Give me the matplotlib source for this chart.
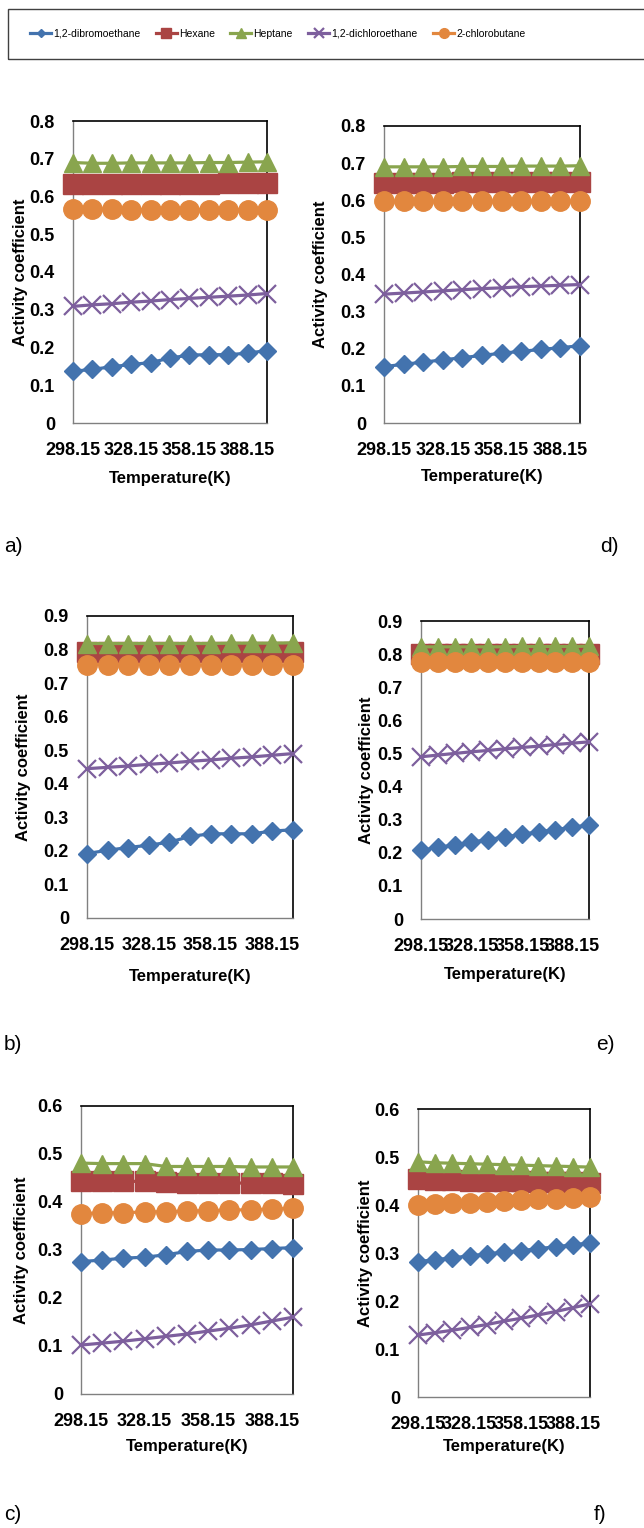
import matplotlib
matplotlib.use("Agg")
import matplotlib.pyplot as plt
from matplotlib.patches import Rectangle

plt.rcParams['font.family'] = ['Liberation Sans', 'DejaVu Sans']

W, H = 644, 1528

temps = ["298.15", "308.15", "318.15", "328.15", "338.15", "348.15",
         "358.15", "368.15", "378.15", "388.15", "398.15"]

names = ["1,2-dibromoethane", "Hexane", "Heptane", "1,2-dichloroethane", "2-chlorobutane"]
colors = ["#4373AE", "#AA4443", "#89A54E", "#7D5F9D", "#E2873E"]

# panel a
a_dibromo = [0.137, 0.142, 0.149, 0.155, 0.160, 0.172, 0.180, 0.181, 0.181, 0.185, 0.192]
a_hexane = [0.632, 0.632, 0.633, 0.633, 0.633, 0.634, 0.634, 0.634, 0.636, 0.637, 0.636]
a_heptane = [0.690, 0.688, 0.688, 0.689, 0.689, 0.689, 0.689, 0.690, 0.690, 0.691, 0.692]
a_dichloro = [0.309, 0.313, 0.316, 0.320, 0.323, 0.327, 0.330, 0.333, 0.336, 0.339, 0.343]
a_chlorobut = [0.566, 0.566, 0.566, 0.565, 0.565, 0.565, 0.565, 0.565, 0.565, 0.565, 0.565]

# panel d
d_dibromo = [0.152, 0.158, 0.164, 0.170, 0.176, 0.182, 0.188, 0.193, 0.198, 0.203, 0.208]
d_hexane = [0.646, 0.646, 0.647, 0.647, 0.648, 0.648, 0.648, 0.649, 0.649, 0.649, 0.650]
d_heptane = [0.690, 0.690, 0.690, 0.690, 0.691, 0.691, 0.691, 0.692, 0.692, 0.692, 0.693]
d_dichloro = [0.347, 0.350, 0.353, 0.356, 0.359, 0.362, 0.364, 0.367, 0.369, 0.371, 0.373]
d_chlorobut = [0.597, 0.597, 0.597, 0.597, 0.597, 0.597, 0.597, 0.597, 0.597, 0.597, 0.597]

# panel b
b_dibromo = [0.192, 0.202, 0.210, 0.217, 0.226, 0.243, 0.251, 0.251, 0.251, 0.259, 0.263]
b_hexane = [0.793, 0.793, 0.793, 0.793, 0.793, 0.793, 0.793, 0.794, 0.794, 0.794, 0.794]
b_heptane = [0.818, 0.818, 0.818, 0.818, 0.818, 0.818, 0.818, 0.819, 0.819, 0.819, 0.820]
b_dichloro = [0.445, 0.449, 0.453, 0.458, 0.462, 0.467, 0.471, 0.476, 0.480, 0.485, 0.490]
b_chlorobut = [0.755, 0.755, 0.755, 0.755, 0.754, 0.754, 0.754, 0.754, 0.754, 0.754, 0.754]

# panel e
e_dibromo = [0.208, 0.216, 0.224, 0.232, 0.240, 0.248, 0.256, 0.263, 0.270, 0.277, 0.284]
e_hexane = [0.800, 0.800, 0.800, 0.800, 0.800, 0.800, 0.800, 0.801, 0.801, 0.801, 0.801]
e_heptane = [0.822, 0.822, 0.822, 0.822, 0.822, 0.822, 0.823, 0.823, 0.823, 0.823, 0.824]
e_dichloro = [0.490, 0.495, 0.500, 0.505, 0.509, 0.514, 0.518, 0.522, 0.527, 0.531, 0.535]
e_chlorobut = [0.777, 0.777, 0.777, 0.777, 0.777, 0.777, 0.777, 0.777, 0.777, 0.777, 0.777]

# panel c
c_dibromo = [0.276, 0.279, 0.283, 0.285, 0.290, 0.297, 0.300, 0.300, 0.301, 0.303, 0.305]
c_hexane = [0.444, 0.444, 0.443, 0.443, 0.441, 0.440, 0.440, 0.440, 0.439, 0.439, 0.438]
c_heptane = [0.481, 0.480, 0.480, 0.480, 0.474, 0.474, 0.474, 0.474, 0.473, 0.473, 0.473]
c_dichloro = [0.102, 0.106, 0.110, 0.115, 0.120, 0.125, 0.131, 0.137, 0.144, 0.152, 0.160]
c_chlorobut = [0.376, 0.377, 0.378, 0.379, 0.380, 0.381, 0.382, 0.383, 0.384, 0.385, 0.387]

# panel f
f_dibromo = [0.282, 0.286, 0.290, 0.294, 0.298, 0.302, 0.305, 0.309, 0.313, 0.317, 0.321]
f_hexane = [0.454, 0.453, 0.452, 0.451, 0.450, 0.450, 0.449, 0.448, 0.447, 0.447, 0.446]
f_heptane = [0.490, 0.488, 0.487, 0.486, 0.485, 0.484, 0.483, 0.482, 0.481, 0.480, 0.479]
f_dichloro = [0.129, 0.134, 0.139, 0.145, 0.151, 0.158, 0.164, 0.171, 0.178, 0.186, 0.194]
f_chlorobut = [0.400, 0.402, 0.404, 0.405, 0.407, 0.409, 0.410, 0.412, 0.413, 0.415, 0.417]

panels = [
    # series, ymax, axes box (left, right, top, bottom) px, ylabel x px, xlabel y px, letter, letter pos
    ([a_dibromo, a_hexane, a_heptane, a_dichloro, a_chlorobut], 0.8, (73, 267, 121, 423), 20, 478, "a)", (4, 546)),
    ([d_dibromo, d_hexane, d_heptane, d_dichloro, d_chlorobut], 0.8, (384, 580, 126, 423), 320, 477, "d)", (600, 546)),
    ([b_dibromo, b_hexane, b_heptane, b_dichloro, b_chlorobut], 0.9, (87, 293, 616, 918), 23, 977, "b)", (4, 1045)),
    ([e_dibromo, e_hexane, e_heptane, e_dichloro, e_chlorobut], 0.9, (421, 589, 621, 919), 366, 975, "e)", (596, 1045)),
    ([c_dibromo, c_hexane, c_heptane, c_dichloro, c_chlorobut], 0.6, (81, 293, 1106, 1394), 22, 1447, "c)", (4, 1515)),
    ([f_dibromo, f_hexane, f_heptane, f_dichloro, f_chlorobut], 0.6, (418, 590, 1109, 1397), 366, 1447, "f)", (594, 1515)),
]

styles = [
    dict(marker="D", ms=9),
    dict(marker="s", ms=14),
    dict(marker="^", ms=13),
    dict(marker="x", ms=13, mew=1.6),
    dict(marker="o", ms=14),
]

fig = plt.figure(figsize=(W / 100, H / 100), dpi=100)

handles = []
for pi, (series, ymax, (l, r, t, b), ylx, xly, letter, (lx, ly)) in enumerate(panels):
    ax = fig.add_axes([l / W, 1 - b / H, (r - l) / W, (b - t) / H])
    x = list(range(len(temps)))
    for k, vals in enumerate(series):
        st = styles[k]
        line, = ax.plot(x, vals, color=colors[k], lw=2.3, marker=st["marker"],
                        ms=st["ms"], mew=st.get("mew", 1), mec=colors[k], mfc=colors[k],
                        clip_on=False, label=names[k], zorder=3 + k)
        if pi == 0:
            handles.append(line)
    ax.set_xlim(0, 10)
    ax.set_ylim(0, ymax)
    nt = int(round(ymax * 10))
    ax.set_yticks([i / 10 for i in range(nt + 1)])
    ax.set_yticklabels(["0"] + ["%.1f" % (i / 10) for i in range(1, nt + 1)])
    ax.set_xticks([0, 3, 6, 9])
    ax.set_xticklabels([temps[0], temps[3], temps[6], temps[9]])
    ax.tick_params(length=0, labelsize=13, pad=13)
    ax.tick_params(axis="x", pad=14)
    for lab in ax.get_xticklabels() + ax.get_yticklabels():
        lab.set_fontweight("bold")
    for side in ["top", "right"]:
        ax.spines[side].set_color("black")
        ax.spines[side].set_linewidth(1.2)
    for side in ["left", "bottom"]:
        ax.spines[side].set_color("#808080")
        ax.spines[side].set_linewidth(1.0)
    ax.set_xlabel("Temperature(K)", fontsize=12, fontweight="bold")
    ax.set_ylabel("Activity coefficient", fontsize=12, fontweight="bold")
    ax.xaxis.set_label_coords(0.5, (b - xly) / (b - t))
    ax.yaxis.set_label_coords((ylx - l) / (r - l), 0.5)
    ax.xaxis.label.set_va("center")
    ax.yaxis.label.set_va("center")
    fig.text(lx / W, 1 - ly / H, letter, fontsize=15, ha="left", va="center")

# legend box at top
fig.patches.append(Rectangle((8 / W, 1 - 59 / H), 640 / W, 50 / H, transform=fig.transFigure,
                             fill=False, edgecolor="#404040", linewidth=1.0))
fig.legend(handles=handles, loc="center left", bbox_to_anchor=(26 / W, 1 - 34 / H),
           ncol=5, frameon=False, markerscale=0.5, handlelength=2.0,
           handletextpad=0.2, columnspacing=1.5, borderaxespad=0,
           prop={"family": "Liberation Sans", "size": 7.5})

fig.savefig("out.png", dpi=100)
